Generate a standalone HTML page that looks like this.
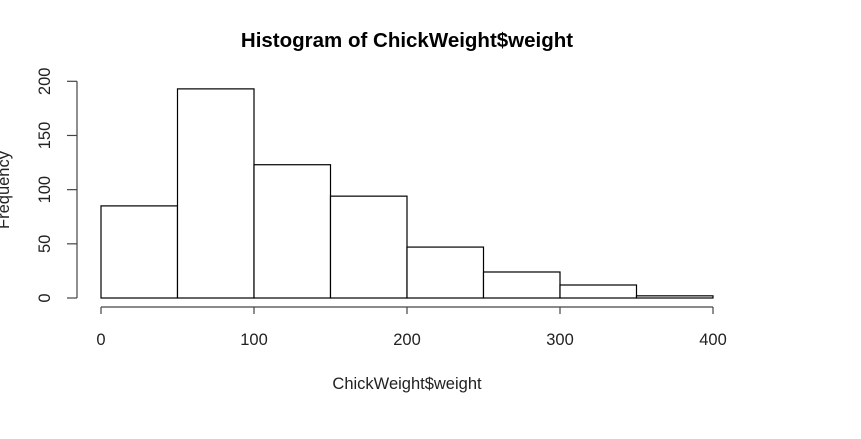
<!DOCTYPE html>
<html><head><meta charset="utf-8"><style>
body{margin:0;background:#fff;}
svg{display:block;font-family:"Liberation Sans",Arial,sans-serif;}
</style></head><body>
<svg width="861" height="439">
<text x="407" y="47" text-anchor="middle" font-size="20.5" font-weight="bold">Histogram of ChickWeight$weight</text>
<text x="407" y="389" text-anchor="middle" font-size="16.5" fill="#222">ChickWeight$weight</text>
<text transform="translate(9,190) rotate(-90)" text-anchor="middle" font-size="16.5" fill="#222">Frequency</text>
<g id="bars"></g>
<g id="xaxis"></g>
<g id="yaxis"></g>
</svg>
<script>
const breaks = [0,50,100,150,200,250,300,350,400];
const counts = [85,193,123,94,47,24,12,2];
const xTicks = [0,100,200,300,400];
const yTicks = [0,50,100,150,200];
const NS="http://www.w3.org/2000/svg";
const sx=v=>101+v*(713-101)/400;
const sy=v=>298-v*(298-81.3)/200;
function mk(tag,attrs,parent){const e=document.createElementNS(NS,tag);for(const k in attrs)e.setAttribute(k,attrs[k]);parent.appendChild(e);return e;}
const bars=document.getElementById('bars');
counts.forEach((c,i)=>{
  const r=mk('rect',{x:sx(breaks[i]),y:sy(c),width:sx(breaks[i+1])-sx(breaks[i]),height:sy(0)-sy(c),fill:'#fff',stroke:'#000','stroke-width':1.2},bars);
  
  
});
const xa=document.getElementById('xaxis');
mk('line',{x1:sx(0),x2:sx(400),y1:307,y2:307,stroke:'#444','stroke-width':1.2},xa);
xTicks.forEach(t=>{
  mk('line',{x1:sx(t),x2:sx(t),y1:307,y2:314,stroke:'#444','stroke-width':1.2},xa);
  const tx=mk('text',{x:sx(t),y:345,'text-anchor':'middle','font-size':16.5,fill:'#222'},xa);
  tx.textContent=t;
  
  
});
const ya=document.getElementById('yaxis');
mk('line',{x1:77,x2:77,y1:sy(0),y2:sy(200),stroke:'#444','stroke-width':1.2},ya);
yTicks.forEach(t=>{
  mk('line',{x1:67,x2:77,y1:sy(t),y2:sy(t),stroke:'#444','stroke-width':1.2},ya);
  const tx=mk('text',{transform:'translate(50,'+sy(t)+') rotate(-90)','text-anchor':'middle','font-size':16.5,fill:'#222'},ya);
  tx.textContent=t;
  
  
});
</script>
</body></html>
